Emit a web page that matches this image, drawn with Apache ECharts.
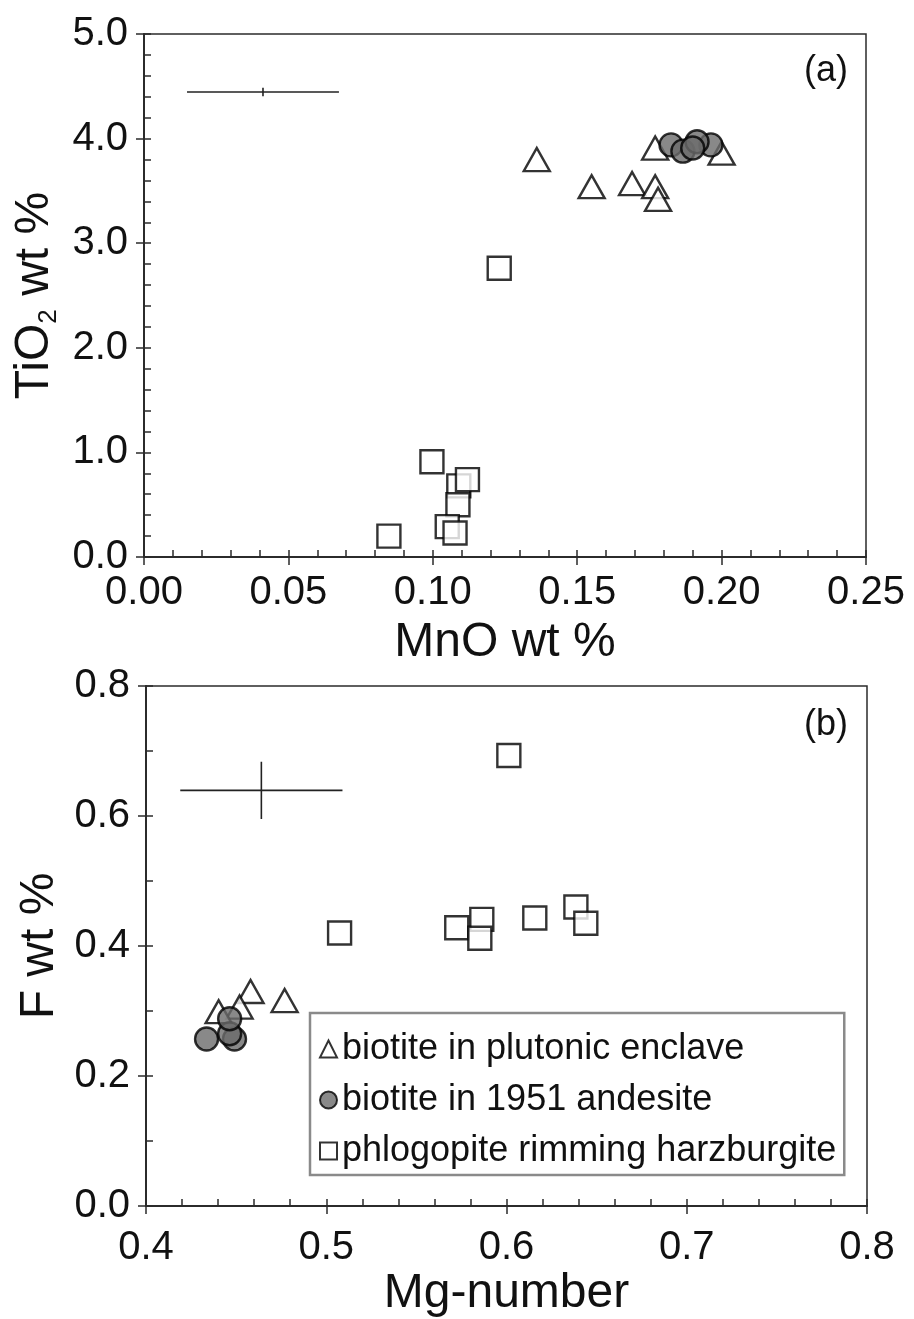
<!DOCTYPE html>
<html>
<head>
<meta charset="utf-8">
<script src="https://cdn.jsdelivr.net/npm/echarts@6/dist/echarts.min.js"></script>
<style>
html,body{margin:0;padding:0;background:#fff;}
#chart{width:914px;height:1319px;}
</style>
</head>
<body>
<div id="chart"></div>
<script>
// ---------- Panel (a): MnO vs TiO2 ----------
const enclaveMnO  = [0.136, 0.155, 0.169, 0.177, 0.178, 0.177, 0.200];
const enclaveTiO2 = [3.80, 3.54, 3.57, 3.54, 3.42, 3.91, 3.86];
const andesiteMnO  = [0.1825, 0.1866, 0.1963, 0.1915, 0.190];
const andesiteTiO2 = [3.94, 3.88, 3.94, 3.97, 3.91];
const phlogMnO  = [0.123, 0.0997, 0.109, 0.112, 0.1087, 0.105, 0.1077, 0.0848];
const phlogTiO2 = [2.76, 0.91, 0.68, 0.74, 0.50, 0.29, 0.23, 0.20];
// error bar (a): [centre x, centre y, half-width x, half-height y]
const errorBarA = [0.0412, 4.445, 0.0263, 0.04];

// ---------- Panel (b): Mg-number vs F ----------
const enclaveMg = [0.458, 0.4769, 0.4519, 0.4403];
const enclaveF  = [0.330, 0.316, 0.306, 0.299];
const andesiteMg = [0.4336, 0.4491, 0.4464, 0.4464];
const andesiteF  = [0.257, 0.257, 0.265, 0.288];
const phlogMg = [0.5074, 0.5724, 0.5863, 0.5852, 0.6157, 0.6385, 0.6440, 0.6013];
const phlogF  = [0.420, 0.428, 0.441, 0.412, 0.443, 0.460, 0.435, 0.693];
// error bar (b)
const errorBarB = [0.464, 0.6395, 0.045, 0.044];

const seriesNames = ['biotite in plutonic enclave', 'biotite in 1951 andesite', 'phlogopite rimming harzburgite'];

const FONT = "'Liberation Sans', Arial, sans-serif";
const AX = '#2b2b2b';

function zip(xs, ys){ return xs.map((x,i)=>[x, ys[i]]); }

function mainX(grid, min, max, interval, minorSplit, dec, name, margin, nameGap){
  return {
    type:'value', gridIndex:grid, position:'bottom', min, max, interval,
    name, nameLocation:'middle', nameGap:nameGap,
    nameTextStyle:{fontFamily:FONT, fontSize:48, color:'#111'},
    axisLine:{show:true, onZero:false, lineStyle:{color:AX, width:2}},
    axisTick:{show:true, inside:true, length:7, lineStyle:{color:AX, width:1.5}},
    minorTick:{show:true, splitNumber:minorSplit, length:7, lineStyle:{color:AX, width:1.5}},
    axisLabel:{fontFamily:FONT, fontSize:40, color:'#111', margin:margin, formatter:v=>v.toFixed(dec)},
    splitLine:{show:false}
  };
}
function outX(grid, min, max, interval){
  return {
    type:'value', gridIndex:grid, position:'bottom', min, max, interval,
    axisLine:{show:false, onZero:false}, axisLabel:{show:false}, splitLine:{show:false},
    axisTick:{show:true, inside:false, length:8, lineStyle:{color:AX, width:1.5}}
  };
}
function mainY(grid, min, max, interval, minorSplit, name, rich){
  return {
    type:'value', gridIndex:grid, position:'left', min, max, interval,
    name, nameLocation:'middle', nameGap:80,
    nameTextStyle:{fontFamily:FONT, fontSize:48, color:'#111', rich:rich},
    axisLine:{show:true, onZero:false, lineStyle:{color:AX, width:2}},
    axisTick:{show:true, inside:true, length:7, lineStyle:{color:AX, width:1.5}},
    minorTick:{show:true, splitNumber:minorSplit, length:7, lineStyle:{color:AX, width:1.5}},
    axisLabel:{fontFamily:FONT, fontSize:40, color:'#111', margin:16, formatter:v=>v.toFixed(1)},
    splitLine:{show:false}
  };
}
function outY(grid, min, max, interval){
  return {
    type:'value', gridIndex:grid, position:'left', min, max, interval,
    axisLine:{show:false, onZero:false}, axisLabel:{show:false}, splitLine:{show:false},
    axisTick:{show:true, inside:false, length:8, lineStyle:{color:AX, width:1.5}}
  };
}

const triStyle = {color:'#ffffff', borderColor:'#000', borderWidth:2.4};
const cirStyle = {color:'#6c6c6c', borderColor:'#000', borderWidth:2.4};
const sqStyle  = {color:'#ffffff', borderColor:'#000', borderWidth:2.4};

function scat(name, xi, yi, data, symbol, size, style){
  return {type:'scatter', name, xAxisIndex:xi, yAxisIndex:yi, data, symbol, symbolSize:size,
    itemStyle:style, emphasis:{disabled:true}, animation:false, z:3};
}
function errLines(xi, yi, e){
  const ls = {color:'#222', width:1.6};
  return [
    {type:'line', xAxisIndex:xi, yAxisIndex:yi, data:[[e[0]-e[2], e[1]], [e[0]+e[2], e[1]]],
     symbol:'none', lineStyle:ls, animation:false, silent:true, z:2},
    {type:'line', xAxisIndex:xi, yAxisIndex:yi, data:[[e[0], e[1]-e[3]], [e[0], e[1]+e[3]]],
     symbol:'none', lineStyle:ls, animation:false, silent:true, z:2}
  ];
}

const chart = echarts.init(document.getElementById('chart'), null, {renderer:'canvas'});
const option = {
  backgroundColor:'#fff',
  animation:false,
  grid:[
    {left:144, right:48, top:34, height:523, show:true, borderColor:AX, borderWidth:1.5, backgroundColor:'transparent'},
    {left:146, right:47, top:686, height:532, show:true, borderColor:AX, borderWidth:1.5, backgroundColor:'transparent'}
  ],
  xAxis:[
    mainX(0, 0, 0.25, 0.05, 5, 2, 'MnO wt %', 16, 62),
    outX(0, 0, 0.25, 0.05),
    mainX(1, 0.4, 0.8, 0.1, 5, 1, 'Mg-number', 22, 64),
    outX(1, 0.4, 0.8, 0.1)
  ],
  yAxis:[
    mainY(0, 0, 5, 1, 5, '{a|TiO}{s|2}{a| wt %}', {a:{fontFamily:FONT, fontSize:48, color:'#111', lineHeight:54}, s:{fontFamily:FONT, fontSize:26, color:'#111', verticalAlign:'bottom', lineHeight:26}}),
    outY(0, 0, 5, 1),
    mainY(1, 0, 0.8, 0.2, 2, 'F wt %'),
    outY(1, 0, 0.8, 0.2)
  ],
  legend:{
    show:true, orient:'vertical', left:310, top:1013,
    data:seriesNames,
    backgroundColor:'#fff', borderColor:'#8a8a8a', borderWidth:2.5,
    padding:[18, 8, 6, 9], itemGap:15, itemWidth:17, itemHeight:17,
    textStyle:{fontFamily:FONT, fontSize:36, lineHeight:36, color:'#111'},
    selectedMode:false
  },
  graphic:[
    {type:'text', left:804, top:53, style:{text:'(a)', font:'36px ' + FONT, fill:'#111'}},
    {type:'text', left:804, top:707, style:{text:'(b)', font:'36px ' + FONT, fill:'#111'}}
  ],
  series:[
    ...errLines(0, 0, errorBarA),
    scat(seriesNames[0], 0, 0, zip(enclaveMnO, enclaveTiO2), 'triangle', [26, 23], triStyle),
    scat(seriesNames[1], 0, 0, zip(andesiteMnO, andesiteTiO2), 'circle', 23, cirStyle),
    scat(seriesNames[2], 0, 0, zip(phlogMnO, phlogTiO2), 'rect', 23, sqStyle),
    ...errLines(2, 2, errorBarB),
    scat(seriesNames[0], 2, 2, zip(enclaveMg, enclaveF), 'triangle', [26, 23], triStyle),
    scat(seriesNames[1], 2, 2, zip(andesiteMg, andesiteF), 'circle', 23, cirStyle),
    scat(seriesNames[2], 2, 2, zip(phlogMg, phlogF), 'rect', 23, sqStyle)
  ]
};
chart.setOption(option);
</script>
</body>
</html>
